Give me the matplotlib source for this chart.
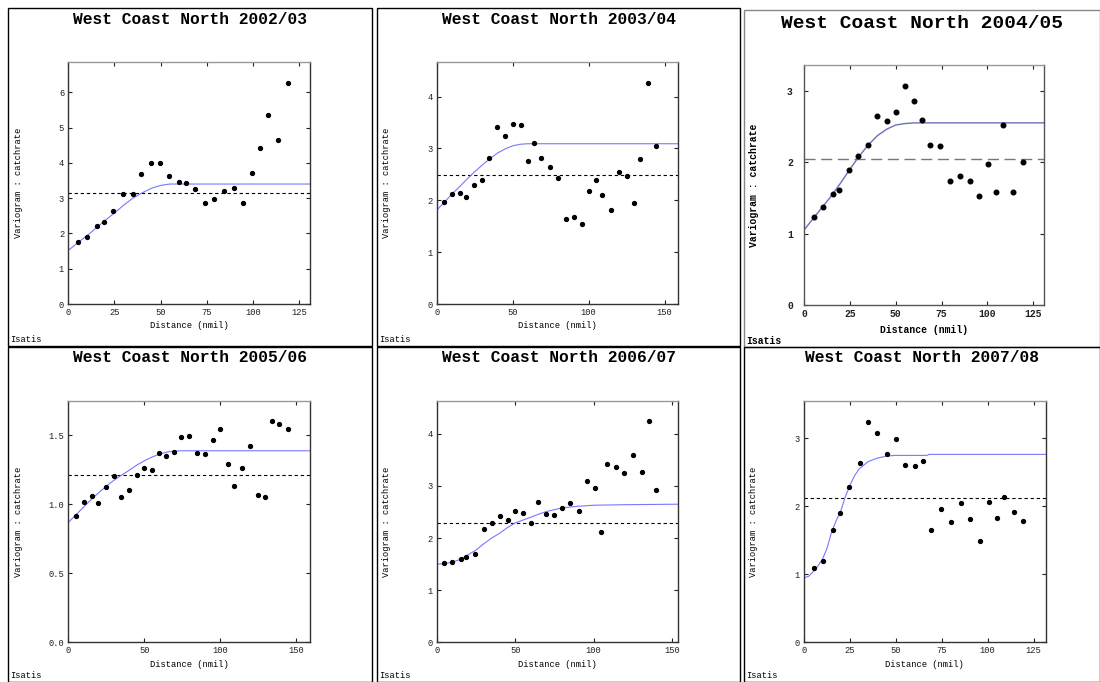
import matplotlib.pyplot as plt
from matplotlib.patches import Rectangle

plt.rcParams['font.family'] = ['Liberation Mono', 'DejaVu Sans Mono']

titles = ['West Coast North 2002/03', 'West Coast North 2003/04', 'West Coast North 2004/05',
          'West Coast North 2005/06', 'West Coast North 2006/07', 'West Coast North 2007/08']

# experimental variogram points (distance in nmil, gamma)
dist_0203 = [5.1, 9.9, 15.4, 19.1, 24.0, 29.4, 34.9, 39.6, 44.8, 49.7, 54.6, 60.0, 63.8, 68.6,
             74.1, 78.8, 84.4, 89.6, 94.5, 99.4, 103.7, 108.0, 113.4, 118.9]
gam_0203 = [1.76, 1.90, 2.21, 2.32, 2.64, 3.13, 3.13, 3.69, 4.00, 4.00, 3.64, 3.46, 3.44, 3.26,
            2.87, 2.98, 3.19, 3.29, 2.85, 3.71, 4.42, 5.37, 4.66, 6.26]
dist_0304 = [4.8, 10.3, 15.4, 19.1, 24.3, 29.6, 34.4, 39.7, 45.0, 50.2, 55.5, 60.3, 63.8, 68.6,
             74.3, 79.8, 85.1, 90.4, 95.6, 100.4, 104.6, 108.8, 114.7, 120.0, 125.0, 129.8,
             134.0, 139.3, 144.1]
gam_0304 = [1.96, 2.12, 2.14, 2.06, 2.29, 2.39, 2.82, 3.41, 3.24, 3.47, 3.45, 2.75, 3.10, 2.81,
            2.64, 2.42, 1.63, 1.68, 1.54, 2.17, 2.39, 2.10, 1.82, 2.55, 2.46, 1.94, 2.79, 4.26, 3.05]
dist_0405 = [5.3, 10.4, 15.6, 19.3, 24.4, 29.6, 34.9, 40.0, 45.5, 50.2, 55.3, 60.2, 64.2, 68.9,
             74.2, 79.5, 84.9, 90.4, 95.6, 100.5, 104.5, 108.5, 113.8, 119.3]
gam_0405 = [1.23, 1.37, 1.56, 1.61, 1.89, 2.08, 2.24, 2.64, 2.58, 2.70, 3.07, 2.86, 2.59, 2.24,
            2.22, 1.73, 1.81, 1.73, 1.52, 1.97, 1.58, 2.52, 1.58, 2.00]
dist_0506 = [5.0, 10.3, 15.6, 19.3, 24.6, 29.8, 34.4, 39.7, 45.2, 49.8, 55.0, 59.9, 64.0, 69.5,
             74.1, 79.4, 84.6, 89.9, 95.2, 100.0, 104.8, 108.8, 114.0, 119.3, 124.8, 129.4,
             134.2, 138.8, 144.3]
gam_0506 = [0.919, 1.021, 1.060, 1.009, 1.125, 1.205, 1.055, 1.101, 1.210, 1.263, 1.251, 1.374,
            1.348, 1.382, 1.490, 1.498, 1.374, 1.367, 1.464, 1.544, 1.294, 1.132, 1.263, 1.425,
            1.067, 1.057, 1.602, 1.580, 1.544]
dist_0607 = [4.7, 10.0, 15.5, 18.9, 24.3, 30.0, 35.1, 40.2, 45.3, 49.8, 54.9, 60.2, 64.3, 69.4,
             74.5, 79.6, 84.7, 90.4, 95.7, 100.9, 104.7, 108.7, 114.5, 119.6, 124.9, 130.6,
             135.1, 139.8]
gam_0607 = [1.52, 1.55, 1.59, 1.64, 1.69, 2.17, 2.29, 2.42, 2.34, 2.51, 2.48, 2.29, 2.69, 2.47,
            2.44, 2.58, 2.68, 2.51, 3.10, 2.96, 2.12, 3.42, 3.37, 3.24, 3.60, 3.27, 4.24, 2.93]
dist_0708 = [5.3, 10.2, 15.6, 19.6, 24.3, 30.3, 35.0, 39.9, 45.4, 50.3, 55.2, 60.4, 64.8, 69.3,
             74.6, 80.0, 85.5, 90.2, 95.8, 100.5, 104.9, 108.7, 114.2, 119.4]
gam_0708 = [1.093, 1.201, 1.657, 1.907, 2.279, 2.637, 3.240, 3.083, 2.770, 2.985, 2.608, 2.593,
            2.662, 1.647, 1.966, 1.765, 2.044, 1.819, 1.490, 2.059, 1.833, 2.137, 1.912, 1.779]

# fitted model curves
mx_0203 = [0, 5, 10, 15, 20, 25, 30, 35, 40, 45, 50, 55, 131]
my_0203 = [1.52, 1.73, 1.93, 2.15, 2.37, 2.58, 2.80, 3.00, 3.15, 3.28, 3.36, 3.40, 3.40]
mx_0304 = [0, 5, 10, 15, 20, 25, 30, 35, 40, 45, 50, 55, 60, 159]
my_0304 = [1.81, 1.96, 2.12, 2.26, 2.41, 2.55, 2.68, 2.80, 2.91, 2.99, 3.05, 3.08, 3.09, 3.09]
mx_0405 = [0, 5, 10, 15, 20, 25, 30, 35, 40, 45, 50, 55, 60, 131]
my_0405 = [1.05, 1.21, 1.37, 1.53, 1.71, 1.90, 2.08, 2.24, 2.37, 2.46, 2.52, 2.54, 2.55, 2.55]
mx_0506 = [0, 5, 10, 15, 20, 25, 30, 35, 40, 45, 50, 55, 60, 65, 70, 75, 159]
my_0506 = [0.869, 0.925, 0.98, 1.035, 1.085, 1.132, 1.175, 1.212, 1.247, 1.285, 1.316, 1.343,
           1.365, 1.38, 1.387, 1.389, 1.389]
mx_0607 = [0, 5, 10, 15, 20, 25, 30, 35, 40, 45, 50, 60, 65, 70, 80, 90, 100, 120, 154]
my_0607 = [1.50, 1.51, 1.54, 1.59, 1.68, 1.77, 1.89, 2.00, 2.09, 2.20, 2.29, 2.40, 2.46, 2.51,
           2.58, 2.61, 2.63, 2.64, 2.65]
mx_0708 = [0, 2.5, 5, 7.5, 10, 12.5, 15, 17.5, 20, 22.5, 25, 27.5, 30, 35, 40, 45, 50, 67, 68, 132]
my_0708 = [0.95, 0.97, 1.04, 1.12, 1.22, 1.38, 1.62, 1.79, 1.93, 2.14, 2.31, 2.45, 2.55, 2.66,
           2.71, 2.74, 2.75, 2.75, 2.765, 2.765]

# experimental variance (dashed)
variance = [3.15, 2.48, 2.05, 1.212, 2.29, 2.118]

xmax = [131, 159, 131, 159, 154, 131.6]
ymax = [6.85, 4.66, 3.36, 1.75, 4.63, 3.55]
xticks = [[0, 25, 50, 75, 100, 125], [0, 50, 100, 150], [0, 25, 50, 75, 100, 125],
          [0, 50, 100, 150], [0, 50, 100, 150], [0, 25, 50, 75, 100, 125]]
yticks = [[0, 1, 2, 3, 4, 5, 6], [0, 1, 2, 3, 4], [0, 1, 2, 3],
          [0.0, 0.5, 1.0, 1.5], [0, 1, 2, 3, 4], [0, 1, 2, 3]]
ytlabels = [['0', '1', '2', '3', '4', '5', '6'], ['0', '1', '2', '3', '4'], ['0', '1', '2', '3'],
            ['0.0', '0.5', '1.0', '1.5'], ['0', '1', '2', '3', '4'], ['0', '1', '2', '3']]

dists = [dist_0203, dist_0304, dist_0405, dist_0506, dist_0607, dist_0708]
gams = [gam_0203, gam_0304, gam_0405, gam_0506, gam_0607, gam_0708]
mxs = [mx_0203, mx_0304, mx_0405, mx_0506, mx_0607, mx_0708]
mys = [my_0203, my_0304, my_0405, my_0506, my_0607, my_0708]

W, H = 1100, 682
fig = plt.figure(figsize=(11, 6.82), dpi=100)

def fx(px):
    return px / W

def fy(py):
    return 1 - py / H

# panel boxes (left, top, right, bottom) and axes boxes in pixels
boxes = [(8, 8, 372, 346), (377, 8, 740, 346), (744, 10, 1100, 347),
         (8, 347, 372, 682), (377, 347, 740, 682), (744, 347, 1100, 682)]
axboxes = [(68.3, 62.3, 310, 304), (436.7, 62.3, 678.3, 304), (804, 65, 1044.3, 305),
           (68.3, 401, 310, 642.3), (436.7, 401, 678.3, 642.3), (804, 401, 1045.7, 642.3)]

for i in range(6):
    l, t, r, b = boxes[i]
    big = (i == 2)
    ec = '#888888' if big else 'black'
    fig.patches.append(Rectangle((fx(l), fy(b)), fx(r - l), (b - t) / H, transform=fig.transFigure,
                                 fill=False, ec=ec, lw=1.0))
    al, at, ar, ab = axboxes[i]
    ax = fig.add_axes([fx(al), fy(ab), fx(ar - al), (ab - at) / H])
    ccol = '#6a70b8' if big else '#7878ff'
    ax.plot(mxs[i], mys[i], color=ccol, lw=1.0 if big else 0.8, zorder=2)
    if big:
        ax.axhline(variance[i], color='#777777', lw=1.0, ls=(0, (8, 4)), zorder=1)
    else:
        ax.axhline(variance[i], color='black', lw=0.8, ls=(0, (3, 2.5)), zorder=1)
    ax.plot(dists[i], gams[i], 'o', color='black', ms=3.3 if big else 2.8, mec='black', zorder=3)
    ax.set_xlim(0, xmax[i])
    ax.set_ylim(0, ymax[i])
    ax.set_xticks(xticks[i])
    ax.set_yticks(yticks[i])
    ax.set_yticklabels(ytlabels[i])
    ax.tick_params(direction='in', top=True, right=True, length=3, width=0.8,
                   labelsize=7 if big else 6.3, pad=3, colors='#222222')
    if big:
        for lab in ax.get_xticklabels() + ax.get_yticklabels():
            lab.set_fontweight('bold')
        ax.tick_params(axis='y', pad=8)
    for s in ax.spines.values():
        s.set_linewidth(1.0)
        s.set_color('#555555' if big else '#333333')
    ax.spines['top'].set_color('#999999')
    cx = (l + r) / 2
    fig.text(fx(cx), fy(t + 11 if not big else t + 13), titles[i], ha='center', va='center',
             fontsize=14 if big else 11.7, fontweight='bold')
    axcx = (al + ar) / 2
    fig.text(fx(axcx), fy(ab + (25 if big else 22)), 'Distance (nmil)', ha='center', va='center',
             fontsize=7 if big else 6.3, fontweight='bold' if big else 'normal')
    fig.text(fx(al - 50), fy((at + ab) / 2), 'Variogram : catchrate', rotation=90,
             ha='center', va='center', fontsize=7 if big else 6.3,
             fontweight='bold' if big else 'normal')
    fig.text(fx(l + 2), fy(b - 6), 'Isatis', ha='left', va='center',
             fontsize=7 if big else 6.3, fontweight='bold' if big else 'normal')

fig.savefig('out.png', dpi=100)
